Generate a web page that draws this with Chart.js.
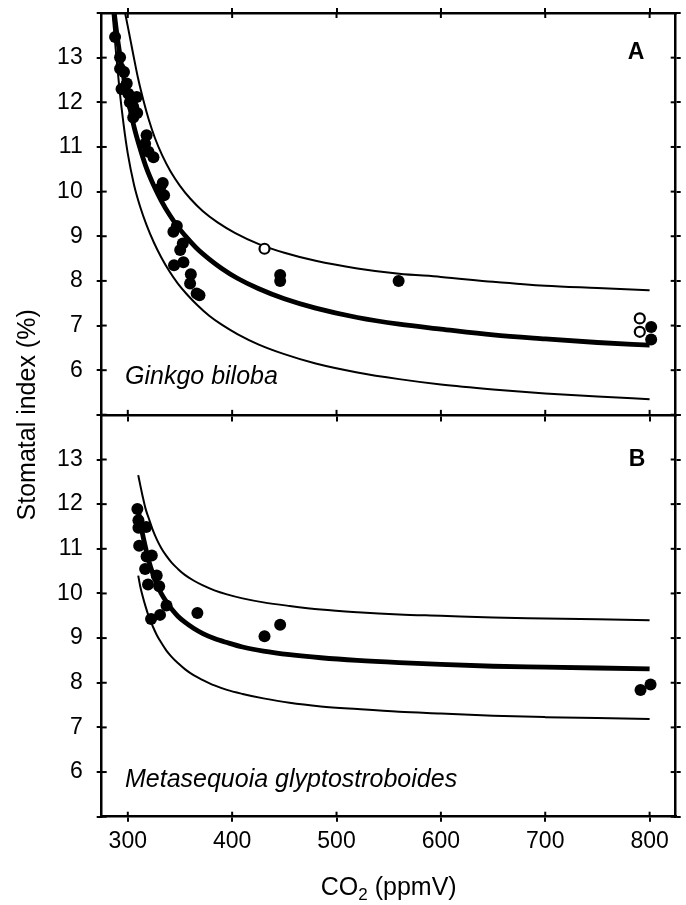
<!DOCTYPE html>
<html>
<head>
<meta charset="utf-8">
<script src="https://cdn.jsdelivr.net/npm/chart.js@4/dist/chart.umd.min.js"></script>
<style>
html,body{margin:0;padding:0;background:#fff;}
canvas{display:block;}
</style>
</head>
<body>
<canvas id="c" width="686" height="905"></canvas>
<script>
// ---------------- data ----------------
const xTickValues = [300, 400, 500, 600, 700, 800];
const yTickValues = [5, 6, 7, 8, 9, 10, 11, 12, 13, 14];
const yTickLabels = ['', '6', '7', '8', '9', '10', '11', '12', '13', ''];
const xTitle = ['CO', '2', ' (ppmV)'];
const yTitle = 'Stomatal index (%)';
const panelLabels = ['A', 'B'];
const speciesNames = ['Ginkgo biloba', 'Metasequoia glyptostroboides'];

// Panel A – Ginkgo biloba, filled circles
const ginkgoCO2 = [287.8, 292.6, 292.6, 296.4, 299.0, 294.0, 300.5, 308.6, 302.0, 305.2, 309.0, 305.2,
  318.0, 316.6, 319.8, 324.6, 333.5, 330.9, 334.8, 347.0, 343.7, 352.7, 350.2, 353.3, 344.3,
  360.4, 359.7, 368.7, 366.0, 446.0, 446.0, 559.5, 801.5, 801.5];
const ginkgoSI = [13.46, 13.01, 12.75, 12.68, 12.42, 12.30, 12.19, 12.12, 12.00, 11.90, 11.76, 11.66,
  11.26, 11.07, 10.89, 10.77, 10.19, 10.07, 9.92, 9.23, 9.10, 8.84, 8.69, 8.42, 8.35,
  8.15, 7.94, 7.68, 7.72, 8.13, 8.00, 8.00, 6.97, 6.69];
// Panel A – open circles
const ginkgoOpenCO2 = [431.0, 790.6, 790.6];
const ginkgoOpenSI = [8.72, 7.16, 6.86];

// Panel A curves
const ginkgoFitCO2 = [286, 290, 295, 300, 306, 312, 318, 325, 332, 340, 348, 357, 367, 378, 390, 405, 425, 450, 480, 520, 560, 600, 650, 700, 750, 800];
const ginkgoFitSI = [14.2, 13.45, 12.7, 12.1, 11.45, 10.95, 10.52, 10.13, 9.8, 9.48, 9.21, 8.96, 8.71, 8.49, 8.28, 8.06, 7.83, 7.6, 7.39, 7.18, 7.03, 6.92, 6.79, 6.7, 6.62, 6.56];
const ginkgoUpperCO2 = [297, 300, 305, 310, 315, 320, 326, 333, 341, 350, 360, 372, 386, 403, 425, 450, 480, 520, 560, 600, 650, 700, 750, 800];
const ginkgoUpperSI = [14.05, 13.7, 13.1, 12.52, 12.04, 11.62, 11.2, 10.81, 10.45, 10.13, 9.84, 9.56, 9.31, 9.07, 8.83, 8.63, 8.45, 8.28, 8.16, 8.09, 7.98, 7.89, 7.84, 7.79];
const ginkgoLowerCO2 = [285, 288, 292, 296, 300, 306, 312, 318, 325, 332, 340, 348, 357, 367, 378, 390, 405, 425, 450, 480, 520, 560, 600, 650, 700, 750, 800];
const ginkgoLowerSI = [14.1, 13.3, 12.3, 11.5, 10.85, 10.15, 9.65, 9.25, 8.86, 8.53, 8.21, 7.94, 7.69, 7.45, 7.22, 7.02, 6.81, 6.58, 6.36, 6.15, 5.95, 5.8, 5.68, 5.57, 5.48, 5.41, 5.35];

// Panel B – Metasequoia glyptostroboides, filled circles
const metaCO2 = [309.2, 310.2, 310.2, 317.6, 310.9, 323.0, 318.0, 316.6, 327.7, 319.4, 330.1, 337.1, 330.9, 322.3, 366.7, 431.0, 446.0, 791.3, 800.9];
const metaSI = [11.89, 11.64, 11.47, 11.49, 11.07, 10.85, 10.83, 10.55, 10.40, 10.20, 10.16, 9.73, 9.52, 9.43, 9.56, 9.04, 9.30, 7.84, 7.96];

// Panel B curves
const metaCurveCO2 = [310, 312, 314, 317, 320, 324, 328, 332, 337, 342, 348, 355, 363, 372, 383, 395, 410, 430, 455, 485, 520, 560, 600, 650, 700, 750, 800];
const metaFitSI = [11.85, 11.62, 11.35, 11.03, 10.74, 10.44, 10.2, 10.0, 9.81, 9.65, 9.49, 9.35, 9.22, 9.1, 8.99, 8.9, 8.8, 8.71, 8.63, 8.56, 8.5, 8.45, 8.41, 8.37, 8.35, 8.33, 8.31];
const metaUpperSI = [12.65, 12.42, 12.2, 11.9, 11.69, 11.42, 11.2, 11.02, 10.84, 10.69, 10.55, 10.41, 10.29, 10.18, 10.07, 9.98, 9.89, 9.8, 9.72, 9.64, 9.58, 9.53, 9.5, 9.46, 9.44, 9.42, 9.4];
const metaLowerSI = [10.4, 10.15, 9.96, 9.71, 9.49, 9.26, 9.06, 8.9, 8.72, 8.58, 8.44, 8.3, 8.17, 8.06, 7.94, 7.84, 7.75, 7.65, 7.55, 7.47, 7.41, 7.35, 7.31, 7.26, 7.23, 7.21, 7.19];

// ---------------- helpers ----------------
const FONT = '"Liberation Sans", Arial, Helvetica, sans-serif';
const pts = (xs, ys) => xs.map((x, i) => ({x: x, y: ys[i]}));

function pointSet(xs, ys, yAxis, open) {
  return {
    data: pts(xs, ys), xAxisID: 'x', yAxisID: yAxis, showLine: false,
    pointRadius: open ? 5.0 : 6.0, pointHoverRadius: open ? 5.0 : 6.0,
    pointBackgroundColor: open ? '#ffffff' : '#000000',
    pointBorderColor: '#000000', pointBorderWidth: open ? 2.2 : 0
  };
}
function curveSet(xs, ys, yAxis, width) {
  return {
    data: pts(xs, ys), xAxisID: 'x', yAxisID: yAxis, showLine: true,
    borderColor: '#000000', borderWidth: width, pointRadius: 0, pointHoverRadius: 0,
    cubicInterpolationMode: 'monotone', fill: false
  };
}

const tickGrid = {drawOnChartArea: false, drawTicks: true, tickLength: 5, color: '#000', lineWidth: 2};
const border = {display: true, color: '#000', width: 2.5};

function zeroPad(s) { s.paddingTop = 0; s.paddingBottom = 0; s.paddingLeft = 0; s.paddingRight = 0; }

function yScale(pos, stack, weight, labels, width) {
  return {
    type: 'linear', position: pos, stack: stack, stackWeight: 1, weight: weight,
    min: 5, max: 14,
    afterBuildTicks: s => { s.ticks = yTickValues.map(v => ({value: v})); },
    ticks: labels ? {
      display: true, autoSkip: false, color: '#000', padding: 14, font: {family: FONT, size: 23},
      callback: v => yTickLabels[yTickValues.indexOf(v)]
    } : {display: false},
    grid: tickGrid, border: border,
    afterFit: s => { s.width = width; zeroPad(s); }
  };
}
function xScale(pos, labels, height) {
  return {
    type: 'linear', position: pos, min: 275, max: 825,
    afterBuildTicks: s => { s.ticks = xTickValues.map(v => ({value: v})); },
    ticks: labels ? {
      display: true, autoSkip: false, color: '#000', padding: 6, maxRotation: 0, font: {family: FONT, size: 23},
      callback: v => String(v)
    } : {display: false},
    grid: tickGrid, border: border,
    afterFit: s => { if (height !== null) s.height = height; zeroPad(s); }
  };
}

// inward halves of the crossing tick marks
const inwardTicks = {
  id: 'inwardTicks',
  afterDraw(chart) {
    const ctx = chart.ctx, a = chart.chartArea, len = 5;
    const dirs = {x: -1, xTop: 1, xMid: -1, yA: 1, yB: 1, yA2: -1, yB2: -1};
    ctx.save();
    ctx.strokeStyle = '#000';
    ctx.lineWidth = 2;
    for (const id in dirs) {
      const s = chart.scales[id];
      s.ticks.forEach(t => {
        const p = s.getPixelForValue(t.value);
        ctx.beginPath();
        if (s.isHorizontal()) {
          const y0 = id === 'xMid' ? chart.scales.yA.getPixelForValue(5) : (id === 'xTop' ? a.top : a.bottom);
          ctx.moveTo(p, y0); ctx.lineTo(p, y0 + dirs[id] * len);
        } else {
          const x0 = dirs[id] > 0 ? a.left : a.right;
          ctx.moveTo(x0, p); ctx.lineTo(x0 + dirs[id] * len, p);
        }
        ctx.stroke();
      });
    }
    ctx.restore();
  }
};

// titles, panel letters, species names
const texts = {
  id: 'texts',
  afterDraw(chart) {
    const ctx = chart.ctx, a = chart.chartArea;
    const sx = chart.scales.x, yA = chart.scales.yA, yB = chart.scales.yB;
    ctx.save();
    ctx.fillStyle = '#000';
    // y title
    ctx.save();
    const midY = yA.getPixelForValue(5);
    ctx.translate(35, midY);
    ctx.rotate(-Math.PI / 2);
    ctx.font = '25px ' + FONT;
    ctx.textAlign = 'center';
    ctx.textBaseline = 'alphabetic';
    ctx.fillText(yTitle, 0, 0);
    ctx.restore();
    // x title with subscript
    ctx.textBaseline = 'alphabetic';
    ctx.textAlign = 'left';
    const big = '25px ' + FONT, small = '17px ' + FONT;
    ctx.font = big; const w0 = ctx.measureText(xTitle[0]).width;
    ctx.font = small; const w1 = ctx.measureText(xTitle[1]).width;
    ctx.font = big; const w2 = ctx.measureText(xTitle[2]).width;
    let tx = (a.left + a.right) / 2 - (w0 + w1 + w2) / 2;
    const base = 895;
    ctx.font = big; ctx.fillText(xTitle[0], tx, base); tx += w0;
    ctx.font = small; ctx.fillText(xTitle[1], tx, base + 5); tx += w1;
    ctx.font = big; ctx.fillText(xTitle[2], tx, base);
    // panel letters
    ctx.font = 'bold 23px ' + FONT;
    ctx.fillText(panelLabels[0], sx.getPixelForValue(779), yA.getPixelForValue(12.98));
    ctx.fillText(panelLabels[1], sx.getPixelForValue(780), yB.getPixelForValue(12.85));
    // species names
    ctx.font = 'italic 25px ' + FONT;
    ctx.fillText(speciesNames[0], sx.getPixelForValue(297.3), yA.getPixelForValue(5.70));
    ctx.fillText(speciesNames[1], sx.getPixelForValue(297.3), yB.getPixelForValue(5.66));
    ctx.restore();
  }
};

new Chart(document.getElementById('c').getContext('2d'), {
  type: 'scatter',
  data: {
    datasets: [
      pointSet(ginkgoOpenCO2, ginkgoOpenSI, 'yA', true),
      pointSet(ginkgoCO2, ginkgoSI, 'yA', false),
      pointSet(metaCO2, metaSI, 'yB', false),
      curveSet(ginkgoFitCO2, ginkgoFitSI, 'yA', 4.8),
      curveSet(ginkgoUpperCO2, ginkgoUpperSI, 'yA', 2),
      curveSet(ginkgoLowerCO2, ginkgoLowerSI, 'yA', 2),
      curveSet(metaCurveCO2, metaFitSI, 'yB', 4.8),
      curveSet(metaCurveCO2, metaUpperSI, 'yB', 2),
      curveSet(metaCurveCO2, metaLowerSI, 'yB', 2)
    ]
  },
  options: {
    responsive: false,
    animation: false,
    devicePixelRatio: 1,
    events: [],
    layout: {padding: {top: 13, left: 0, right: 0, bottom: 0}},
    plugins: {legend: {display: false}, tooltip: {enabled: false}, title: {display: false}},
    scales: {
      x: xScale('bottom', true, 88.3),
      xTop: xScale('top', false, 0),
      xMid: xScale({yA: 5}, false, null),
      yA: yScale('left', 'L', 1, true, 101.7),
      yB: yScale('left', 'L', 0, true, 101.7),
      yA2: yScale('right', 'R', 0, false, 10.3),
      yB2: yScale('right', 'R', 1, false, 10.3)
    }
  },
  plugins: [inwardTicks, texts]
});
</script>
</body>
</html>
